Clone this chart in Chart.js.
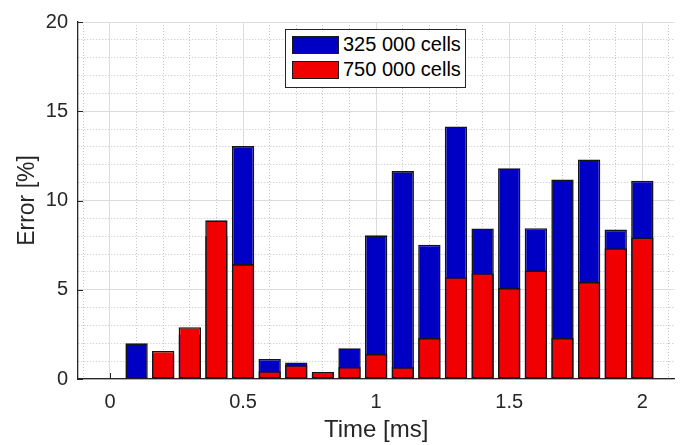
<!DOCTYPE html>
<html>
<head>
<meta charset="utf-8">
<script src="https://cdn.jsdelivr.net/npm/chart.js@4/dist/chart.umd.min.js"></script>
<style>
  body { margin: 0; background: #fff; }
  #wrap { position: relative; width: 680px; height: 445px; }
  #legend {
    position: absolute; left: 285px; top: 29px; width: 179px; height: 57px;
    border: 1px solid #262626; background: #fff;
    font-family: "Liberation Sans", Arial, sans-serif; font-size: 20px; color: #000;
  }
  .item { position: absolute; left: 6px; height: 21px; display: flex; align-items: center; }
  .swatch { width: 45px; height: 16px; border: 1.5px solid #1a1a1a; margin-right: 4px; }
</style>
</head>
<body>
<div id="wrap">
  <canvas id="chart" width="680" height="445"></canvas>
  <div id="legend"></div>
</div>
<script>
// time axis positions [ms]
const times = [0, 0.1, 0.2, 0.3, 0.4, 0.5, 0.6, 0.7, 0.8, 0.9, 1.0,
               1.1, 1.2, 1.3, 1.4, 1.5, 1.6, 1.7, 1.8, 1.9, 2.0];
// error [%] for each mesh
const err325k = [0, 2.0, 1.4, 2.5, 8.0, 13.05, 1.12, 0.93, 0.3, 1.72, 8.05,
                 11.65, 7.52, 14.15, 8.43, 11.8, 8.45, 11.18, 12.3, 8.37, 11.11];
const err750k = [0, 0, 1.57, 2.9, 8.89, 6.44, 0.44, 0.78, 0.39, 0.68, 1.41,
                 0.67, 2.3, 5.7, 5.93, 5.11, 6.09, 2.3, 5.44, 7.33, 7.93];
const seriesLabels = ["325 000 cells", "750 000 cells"];
const xMajor = [0, 0.5, 1, 1.5, 2];
const yMajor = [0, 5, 10, 15, 20];

const FONT = "'Liberation Sans', Arial, sans-serif";
const isMajor = (v, step) => Math.abs(v / step - Math.round(v / step)) < 1e-6;

// inward tick marks like MATLAB, drawn under the bars
const innerTicks = {
  id: "innerTicks",
  beforeDatasetsDraw(chart) {
    const { ctx, chartArea, scales } = chart;
    ctx.save();
    ctx.strokeStyle = "#262626";
    ctx.lineWidth = 1;
    ctx.beginPath();
    xMajor.forEach((v) => {
      const x = Math.round(scales.x.getPixelForValue(v)) + 0.5;
      ctx.moveTo(x, chartArea.bottom);
      ctx.lineTo(x, chartArea.bottom - 6);
    });
    yMajor.forEach((v) => {
      const y = Math.round(scales.y.getPixelForValue(v)) + 0.5;
      ctx.moveTo(chartArea.left, y);
      ctx.lineTo(chartArea.left + 5, y);
    });
    ctx.stroke();
    ctx.restore();
  },
};

const gridColor = (ctx, step) =>
  ctx.tick && isMajor(ctx.tick.value, step) ? "#dcdcdc" : "#c4c4c4";
const gridDash = (ctx, step) =>
  !ctx.tick || isMajor(ctx.tick.value, step) ? [] : [1, 2];

const chart = new Chart(document.getElementById("chart"), {
  type: "bar",
  data: {
    datasets: [
      {
        label: seriesLabels[0],
        data: times.map((t, i) => ({ x: t, y: err325k[i] })),
        backgroundColor: "#0000c4",
        borderColor: "#141414",
        borderWidth: 1.6,
        borderSkipped: false,
        order: 2,
      },
      {
        label: seriesLabels[1],
        data: times.map((t, i) => ({ x: t, y: err750k[i] })),
        backgroundColor: "#f00000",
        borderColor: "#141414",
        borderWidth: 1.6,
        borderSkipped: false,
        order: 1,
      },
    ],
  },
  options: {
    responsive: false,
    animation: false,
    devicePixelRatio: 1,
    grouped: false,
    barPercentage: 1,
    categoryPercentage: 0.84,
    layout: { padding: { left: 0, top: 20, right: 4, bottom: 0 } },
    plugins: {
      legend: { display: false },
      tooltip: { enabled: false },
    },
    scales: {
      x: {
        type: "linear",
        min: -0.12,
        max: 2.12,
        offset: false,
        afterFit: (s) => { s.height = 66; },
        ticks: {
          stepSize: 0.1,
          includeBounds: false,
          autoSkip: false,
          maxRotation: 0,
          padding: 11,
          color: "#262626",
          font: { family: FONT, size: 20 },
          callback: (v) => (isMajor(v, 0.5) ? String(Math.round(v * 2) / 2) : ""),
        },
        grid: {
          offset: false,
          drawTicks: false,
          color: (c) => gridColor(c, 0.5),
        },
        border: { color: "#262626", width: 1.3, dash: (c) => gridDash(c, 0.5) },
        title: {
          display: true,
          text: "Time [ms]",
          color: "#262626",
          font: { family: FONT, size: 24 },
          padding: { top: 0, bottom: 0 },
        },
      },
      y: {
        min: 0,
        max: 20,
        afterFit: (s) => { s.width = 78; },
        ticks: {
          stepSize: 1,
          autoSkip: false,
          padding: 10,
          color: "#262626",
          font: { family: FONT, size: 20 },
          callback: (v) => (isMajor(v, 5) ? String(v) : ""),
        },
        grid: {
          drawTicks: false,
          color: (c) => gridColor(c, 5),
        },
        border: { color: "#262626", width: 1.3, dash: (c) => gridDash(c, 5) },
        title: {
          display: true,
          text: "Error [%]",
          color: "#262626",
          font: { family: FONT, size: 23 },
          padding: { top: 14, bottom: 0 },
        },
      },
    },
  },
  plugins: [innerTicks],
});

// legend box inside the axes, built from the datasets
const legendBox = document.getElementById("legend");
chart.data.datasets.forEach((ds, i) => {
  const item = document.createElement("div");
  item.className = "item";
  item.style.top = 4 + i * 25 + "px";
  const sw = document.createElement("span");
  sw.className = "swatch";
  sw.style.background = ds.backgroundColor;
  const txt = document.createElement("span");
  txt.textContent = ds.label;
  item.appendChild(sw);
  item.appendChild(txt);
  legendBox.appendChild(item);
});
</script>
</body>
</html>
